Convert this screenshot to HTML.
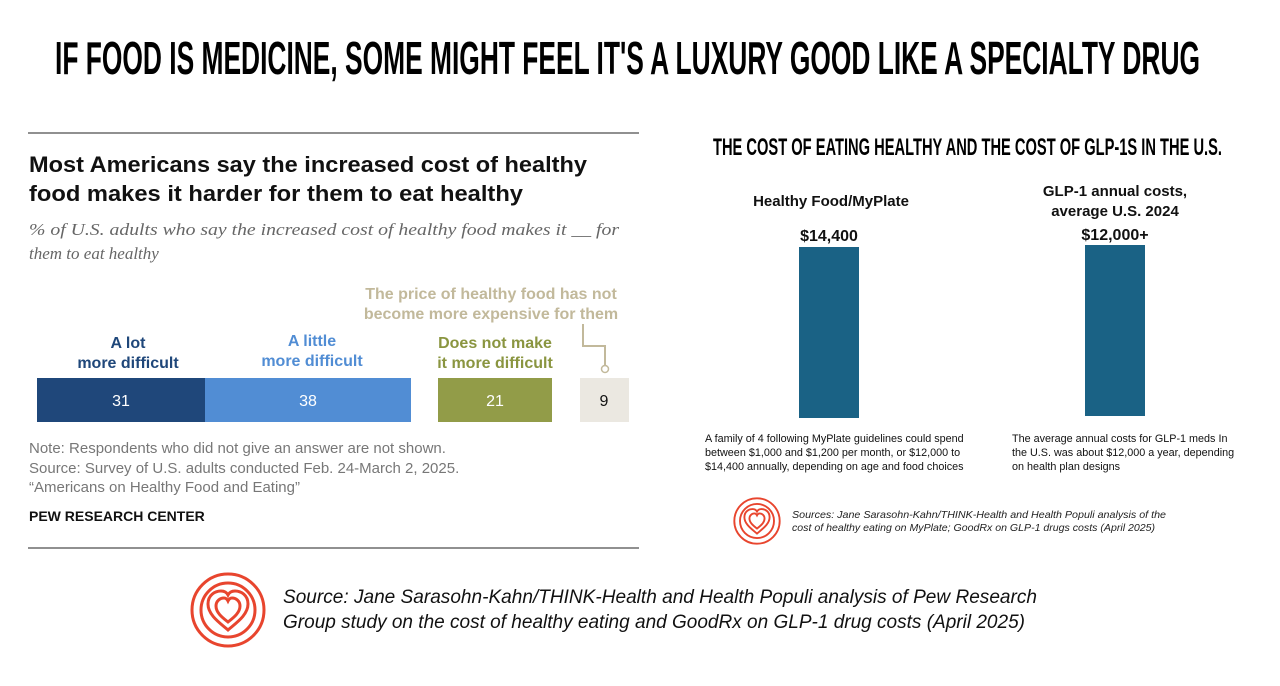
<!DOCTYPE html>
<html><head><meta charset="utf-8"><style>
html,body{margin:0;padding:0;background:#fff;}
svg{display:block;}
</style></head><body>
<svg width="1280" height="686" viewBox="0 0 1280 686" xmlns="http://www.w3.org/2000/svg" font-family="Liberation Sans, sans-serif">
<defs>
<g id="logo">
<circle cx="0" cy="0" r="36" fill="none" stroke="#e8452e" stroke-width="3"/>
<circle cx="0" cy="0" r="27" fill="none" stroke="#e8452e" stroke-width="3"/>
<path d="M0,20 C-8,13 -20,5 -20,-6 C-20,-15 -13,-19 -7,-19 C-3,-19 -1,-17 0,-15 C1,-17 3,-19 7,-19 C13,-19 20,-15 20,-6 C20,5 8,13 0,20Z" fill="none" stroke="#e8452e" stroke-width="3"/>
<path d="M0,12 C-5,8 -12,3 -12,-4 C-12,-9 -8,-12 -4,-12 C-2,-12 -1,-11 0,-9 C1,-11 2,-12 4,-12 C8,-12 12,-9 12,-4 C12,3 5,8 0,12Z" fill="none" stroke="#e8452e" stroke-width="3"/>
</g>
</defs>
<text x="55" y="74" font-family="Liberation Sans Narrow, Liberation Sans, sans-serif" font-weight="bold" font-size="46" textLength="1145" lengthAdjust="spacingAndGlyphs" fill="#000">IF FOOD IS MEDICINE, SOME MIGHT FEEL IT'S A LUXURY GOOD LIKE A SPECIALTY DRUG</text>

<line x1="28" y1="133" x2="639" y2="133" stroke="#222" stroke-width="1"/>
<line x1="28" y1="548" x2="639" y2="548" stroke="#222" stroke-width="1"/>
<text x="29" y="172" font-weight="bold" font-size="22" textLength="558" lengthAdjust="spacingAndGlyphs" fill="#111">Most Americans say the increased cost of healthy</text>
<text x="29" y="201" font-weight="bold" font-size="22" textLength="494" lengthAdjust="spacingAndGlyphs" fill="#111">food makes it harder for them to eat healthy</text>
<text x="29" y="235" font-family="Liberation Serif, serif" font-style="italic" font-size="17" textLength="590" lengthAdjust="spacingAndGlyphs" fill="#666">% of U.S. adults who say the increased cost of healthy food makes it __ for</text>
<text x="29" y="259" font-family="Liberation Serif, serif" font-style="italic" font-size="17" fill="#666">them to eat healthy</text>

<g font-weight="bold" font-size="16" text-anchor="middle">
<text x="128" y="348" fill="#1f477a">A lot</text>
<text x="128" y="368" fill="#1f477a">more difficult</text>
<text x="312" y="346" fill="#518dd4">A little</text>
<text x="312" y="366" fill="#518dd4">more difficult</text>
<text x="495" y="348" fill="#8a9540">Does not make</text>
<text x="495" y="368" fill="#8a9540">it more difficult</text>
<text x="491" y="299" fill="#c2b99b">The price of healthy food has not</text>
<text x="491" y="319" fill="#c2b99b">become more expensive for them</text>
</g>
<polyline points="583,324 583,346 605,346 605,365" fill="none" stroke="#c2b99b" stroke-width="2"/>
<circle cx="605" cy="369" r="3.5" fill="#fff" stroke="#c2b99b" stroke-width="1.5"/>
<rect x="37" y="378" width="168" height="44" fill="#1f477a"/>
<rect x="205" y="378" width="206" height="44" fill="#518dd4"/>
<rect x="438" y="378" width="114" height="44" fill="#929c48"/>
<rect x="580" y="378" width="49" height="44" fill="#ebe8e1"/>
<g font-size="16" text-anchor="middle">
<text x="121" y="406" fill="#fff">31</text>
<text x="308" y="406" fill="#fff">38</text>
<text x="495" y="406" fill="#fff">21</text>
<text x="604" y="406" fill="#111">9</text>
</g>
<g font-size="15" fill="#777">
<text x="29" y="453">Note: Respondents who did not give an answer are not shown.</text>
<text x="29" y="473">Source: Survey of U.S. adults conducted Feb. 24-March 2, 2025.</text>
<text x="29" y="492">“Americans on Healthy Food and Eating”</text>
</g>
<text x="29" y="521" font-weight="bold" font-size="14" fill="#111">PEW RESEARCH CENTER</text>

<text x="713" y="155" font-family="Liberation Sans Narrow, Liberation Sans, sans-serif" font-weight="bold" font-size="24" textLength="509" lengthAdjust="spacingAndGlyphs" fill="#000">THE COST OF EATING HEALTHY AND THE COST OF GLP-1S IN THE U.S.</text>
<g font-weight="bold" font-size="15" text-anchor="middle" fill="#111">
<text x="831" y="206">Healthy Food/MyPlate</text>
<text x="1115" y="196">GLP-1 annual costs,</text>
<text x="1115" y="216">average U.S. 2024</text>
<text x="829" y="241" font-size="16">$14,400</text>
<text x="1115" y="240" font-size="16">$12,000+</text>
</g>
<rect x="799" y="247" width="60" height="171" fill="#1a6285"/>
<rect x="1085" y="245" width="60" height="171" fill="#1a6285"/>
<g font-size="10.8" fill="#111">
<text x="705" y="442">A family of 4 following MyPlate guidelines could spend</text>
<text x="705" y="456">between $1,000 and $1,200 per month, or $12,000 to</text>
<text x="705" y="470">$14,400 annually, depending on age and food choices</text>
<text x="1012" y="442">The average annual costs for GLP-1 meds In</text>
<text x="1012" y="456">the U.S. was about $12,000 a year, depending</text>
<text x="1012" y="470">on health plan designs</text>
</g>
<use href="#logo" transform="translate(757,521) scale(0.63)"/>
<g font-size="10.2" font-style="italic" fill="#222">
<text x="792" y="518" textLength="374" lengthAdjust="spacingAndGlyphs">Sources: Jane Sarasohn-Kahn/THINK-Health and Health Populi analysis of the</text>
<text x="792" y="531" textLength="363" lengthAdjust="spacingAndGlyphs">cost of healthy eating on MyPlate; GoodRx on GLP-1 drugs costs (April 2025)</text>
</g>

<use href="#logo" transform="translate(228,610)"/>
<g font-size="19" font-style="italic" fill="#111">
<text x="283" y="603" textLength="754" lengthAdjust="spacingAndGlyphs">Source: Jane Sarasohn-Kahn/THINK-Health and Health Populi analysis of Pew Research</text>
<text x="283" y="628" textLength="742" lengthAdjust="spacingAndGlyphs">Group study on the cost of healthy eating and GoodRx on GLP-1 drug costs (April 2025)</text>
</g>
</svg>
</body></html>
